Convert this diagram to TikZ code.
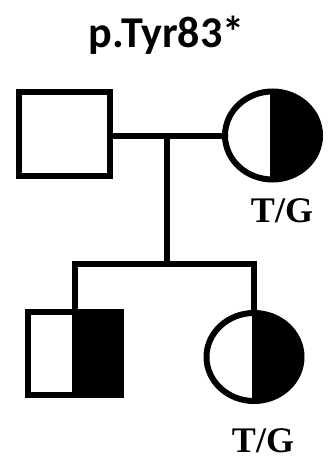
\documentclass[tikz,border=0pt]{standalone}
\usepackage{fontspec}
\setmainfont{Liberation Serif}
\newfontfamily\titlefont{Carlito}
\usetikzlibrary{shapes.geometric,calc}
\tikzset{
  lw/.style={line width=6pt},
  malebox/.style={draw, lw, rectangle, inner sep=0pt, outer sep=0pt, minimum width=91pt, minimum height=84pt},
  femalebox/.style={draw, lw, ellipse, inner sep=0pt, outer sep=0pt, minimum width=95pt, minimum height=88pt},
  halffill/.style={path picture={\fill[black] ($(path picture bounding box.north)+(-2.5pt,3pt)$) rectangle ($(path picture bounding box.south east)+(3pt,-3pt)$);}},
  conn/.style={lw, line cap=rect},
  gtlabel/.style={font=\fontsize{36}{36}\selectfont\bfseries, inner sep=0pt, anchor=base},
}
\begin{document}
\begin{tikzpicture}[x=1pt, y=-1pt]
\useasboundingbox (0,0) rectangle (327,462);
\node[font=\titlefont\fontsize{44}{44}\selectfont\bfseries, inner sep=0pt, anchor=base] (title) at (166.5,48) {p.Tyr83*};
\node[malebox] (father) at (64,134) {};
\node[femalebox, halffill] (mother) at (272.5,135.5) {};
\node[gtlabel] (g1) at (282,222) {T/G};
\coordinate (mid) at (166.7,136);
\coordinate (sib) at (166.7,264);
\node[malebox, halffill, minimum width=93pt, minimum height=83pt] (son) at (74.5,353.5) {};
\node[femalebox, halffill] (daughter) at (254,357) {};
\node[gtlabel] (g2) at (263,452) {T/G};
\draw[lw] (father.east |- mid) -- (mother.west |- mid);
\draw[lw] (mid) -- (sib);
\draw[lw] (son.north |- sib) -- (daughter.north |- sib);
\draw[lw] ([yshift=3pt]son.north |- sib) -- (son.north);
\draw[lw] ([yshift=3pt]daughter.north |- sib) -- (daughter.north);
\end{tikzpicture}
\end{document}
